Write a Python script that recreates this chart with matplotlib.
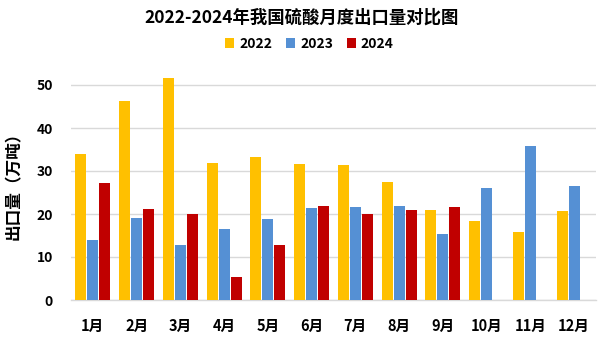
import matplotlib
matplotlib.use("Agg")
import matplotlib.pyplot as plt
import numpy as np

plt.rcParams['font.family'] = ['Noto Sans CJK SC', 'DejaVu Sans']

months = ["1月", "2月", "3月", "4月", "5月", "6月", "7月", "8月", "9月", "10月", "11月", "12月"]
years = ["2022", "2023", "2024"]
v2022 = [33.9, 46.3, 51.6, 31.9, 33.3, 31.6, 31.4, 27.4, 20.9, 18.4, 15.8, 20.7]
v2023 = [14.0, 19.1, 12.8, 16.5, 18.8, 21.4, 21.6, 21.9, 15.3, 26.0, 35.8, 26.5]
v2024 = [27.2, 21.2, 20.0, 5.3, 12.8, 21.9, 20.0, 20.9, 21.6, None, None, None]
yticks = [0, 10, 20, 30, 40, 50]
colors = ["#FFC000", "#5590D4", "#C00000"]

W, H = 603, 338
fig = plt.figure(figsize=(W / 100, H / 100), dpi=100)
ax_left, ax_right = 71, 596
y0_px = 300
ymax = 55
px_per_unit = 4.3
ax_top = y0_px - ymax * px_per_unit
ax = fig.add_axes([ax_left / W, 1 - y0_px / H, (ax_right - ax_left) / W, (y0_px - ax_top) / H])

x = np.arange(len(months))
step = 0.274
bw = 0.25
series = [v2022, v2023, v2024]
for i, (vals, c, lab) in enumerate(zip(series, colors, years)):
    xs = [xi + (i - 1) * step for xi, v in zip(x, vals) if v is not None]
    ys = [v for v in vals if v is not None]
    ax.bar(xs, ys, width=bw, color=c, label=lab, zorder=3, clip_on=False)

ax.set_xlim(-0.5, len(months) - 0.5)
ax.set_ylim(0, ymax)
ax.set_yticks(yticks)
ax.set_yticklabels([str(t) for t in yticks], fontsize=10, fontweight='bold')
ax.set_xticks(x)
ax.set_xticklabels(months, fontsize=10.5, fontweight='bold')
ax.tick_params(axis='both', length=0)
ax.tick_params(axis='y', pad=13)
ax.tick_params(axis='x', pad=13)
ax.grid(axis='y', color='#D9D9D9', linewidth=1, zorder=0)
for s in ['top', 'right', 'left']:
    ax.spines[s].set_visible(False)
ax.spines['bottom'].set_color('#D9D9D9')
ax.spines['bottom'].set_linewidth(1)

ax.set_ylabel("出口量（万吨）", fontsize=12, fontweight='bold', labelpad=10)

fig.text(0.5, 1 - 18 / H, "2022-2024年我国硫酸月度出口量对比图", ha='center', va='center',
         fontsize=12.5, fontweight='bold')
fig.legend(loc='center', bbox_to_anchor=(309.5 / W, 1 - 44 / H), ncol=3, frameon=False,
           prop={'size': 10, 'weight': 'bold'}, handlelength=0.65, handleheight=0.65,
           handletextpad=0.35, columnspacing=1.0)

fig.savefig("out.png", dpi=100)
